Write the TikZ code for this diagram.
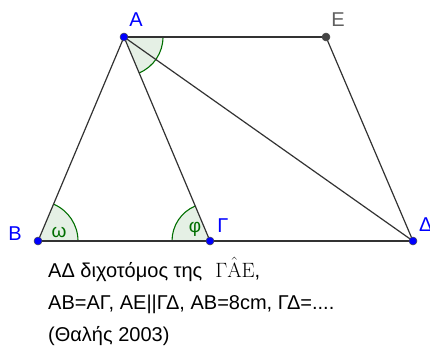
\documentclass[tikz,border=0pt]{standalone}
\usepackage[no-math]{fontspec}
\setmainfont{Liberation Sans}
\definecolor{ptblue}{RGB}{0,0,255}
\definecolor{lineg}{RGB}{50,50,50}
\definecolor{angg}{RGB}{0,110,0}
\definecolor{egray}{RGB}{68,68,68}
\definecolor{labgray}{RGB}{96,96,96}
\begin{document}
\begin{tikzpicture}[x=1pt,y=-1pt,
  seg/.style={draw=lineg, line width=1.2pt},
  angfill/.style={fill=angg, fill opacity=0.1},
  angarc/.style={draw=angg, line width=1.1pt},
  pt/.style={circle, fill=ptblue, draw=black!70, line width=0.5pt, inner sep=0pt, minimum size=8pt},
  ept/.style={circle, fill=egray, draw=black!70, line width=0.5pt, inner sep=0pt, minimum size=8pt},
  lab/.style={font=\fontsize{20}{23}\selectfont, text=ptblue, inner sep=0pt},
  glab/.style={font=\fontsize{19}{22}\selectfont, text=angg, inner sep=0pt},
  txt/.style={font=\fontsize{20}{23}\selectfont, anchor=base west, inner sep=0pt}]
\useasboundingbox (0,0) rectangle (430,354);
\coordinate (A) at (124,37);
\coordinate (E) at (326,37);
\coordinate (B) at (38,241);
\coordinate (G) at (210,241);
\coordinate (D) at (413,241);
% angle wedges
\fill[angfill] (A) -- ++(0:39) arc[start angle=0, end angle=67.1, radius=39] -- cycle;
\fill[angfill] (B) -- ++(-67.1:40) arc[start angle=-67.1, end angle=0, radius=40] -- cycle;
\fill[angfill] (G) -- ++(180:38) arc[start angle=180, end angle=247.1, radius=38] -- cycle;
\draw[angarc] (A) ++(0:39) arc[start angle=0, end angle=67.1, radius=39];
\draw[angarc] (B) ++(-67.1:40) arc[start angle=-67.1, end angle=0, radius=40];
\draw[angarc] (G) ++(180:38) arc[start angle=180, end angle=247.1, radius=38];
% segments
\draw[seg] (A) -- (B);
\draw[seg] (A) -- (G);
\draw[seg] (A) -- (D);
\draw[seg] (A) -- (E);
\draw[seg] (E) -- (D);
\draw[seg] (B) -- (D);
% points
\node[pt] (pA) at (A) {};
\node[ept] (pE) at (E) {};
\node[pt] (pB) at (B) {};
\node[pt] (pG) at (G) {};
\node[pt] (pD) at (D) {};
% labels
\node[lab] (lA) at (136,20) {A};
\node[lab, text=labgray] (lE) at (338,20) {E};
\node[lab] (lB) at (15,234) {B};
\node[lab] (lG) at (223,226) {Γ};
\node[lab, anchor=west] (lD) at (419,225) {Δ};
\node[glab] (w) at (59,232) {ω};
\node[glab] (f) at (195,229) {φ};
% text
\node[txt] (t1) at (48,277) {ΑΔ διχοτόμος της\hspace{13pt}{\fontsize{22}{25}\selectfont$\mathrm{\Gamma\hat{A}E}$},};
\node[txt] (t2) at (48,309) {AB=AΓ, AE||ΓΔ, AB=8cm, ΓΔ=....};
\node[txt] (t3) at (48,341) {(Θαλής 2003)};
\end{tikzpicture}
\end{document}
